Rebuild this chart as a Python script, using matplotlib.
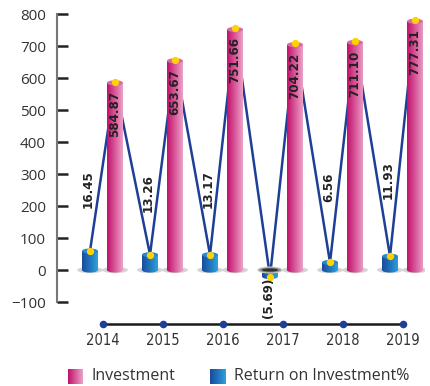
import numpy as np
import matplotlib
matplotlib.use("Agg")
import matplotlib.pyplot as plt
from matplotlib.patches import Ellipse, PathPatch
from matplotlib.path import Path
from matplotlib.colors import LinearSegmentedColormap
from matplotlib import font_manager

years = ["2014", "2015", "2016", "2017", "2018", "2019"]
investment = [584.87, 653.67, 751.66, 704.22, 711.10, 777.31]
roi_pct = [16.45, 13.26, 13.17, -5.69, 6.56, 11.93]
roi_labels = ["16.45", "13.26", "13.17", "(5.69)", "6.56", "11.93"]
yticks = [-100, 0, 100, 200, 300, 400, 500, 600, 700, 800]

# vertical stretch used to show the ROI % cylinders on the investment axis
ROI_SCALE = 3.6
# centre height of each rotated ROI label
roi_label_y = [254, 241, 254, -88, 257, 280]

# condensed face for the value labels and years
sys_fonts = font_manager.findSystemFonts()
cond_files = [f for f in sys_fonts if f.endswith("DejaVuSansCondensed-Bold.ttf")]
cond_reg_files = [f for f in sys_fonts if f.endswith("DejaVuSansCondensed.ttf")]
val_font = font_manager.FontProperties(fname=cond_files[0], size=9.5) if cond_files else \
    font_manager.FontProperties(family="DejaVu Sans", weight="bold", size=8.5)
year_font = font_manager.FontProperties(fname=cond_reg_files[0], size=10.5) if cond_reg_files else \
    font_manager.FontProperties(family="DejaVu Sans", size=10)

W, H = 431, 386
fig = plt.figure(figsize=(W / 100, H / 100), dpi=100)

ax_left, ax_right, ax_top, ax_bot = 57, 425, 14, 302
ax = fig.add_axes([ax_left / W, 1 - ax_bot / H, (ax_right - ax_left) / W, (ax_bot - ax_top) / H])
px_per_x = 60.0
xmin = -(103 - ax_left) / px_per_x
xmax = xmin + (ax_right - ax_left) / px_per_x
ymin, ymax = -100, 800

pink_cmap = LinearSegmentedColormap.from_list("pink", ["#c2106c", "#d8589a", "#eaa2c8"])
blue_cmap = LinearSegmentedColormap.from_list("blue", ["#1a4c9a", "#1f74bf", "#2fa3da"])
grad = np.linspace(0, 1, 64).reshape(1, -1)

bar_w = 16 / px_per_x
cap_h = 16.0  # height of the cylinder's elliptical cap, in data units


def shadow(xc, dark=False):
    if dark:
        for k, (ww, hh, c) in enumerate([(26, 22, "#d0d0d0"), (22, 16, "#8a8a8a"), (16, 10, "#303030")]):
            ax.add_patch(Ellipse((xc, 0), ww / px_per_x, hh, facecolor=c, edgecolor="none", zorder=5.5 + k * 0.01))
    else:
        ax.add_patch(Ellipse((xc, 0), 26 / px_per_x, 20, facecolor="#d6d6d6", edgecolor="none", zorder=1.5))
        ax.add_patch(Ellipse((xc, 0), 18 / px_per_x, 12, facecolor="#c4c4c4", edgecolor="none", zorder=1.51))


def cylinder(xc, top, bottom, cmap, cap_color, z, cap=True):
    x0, x1 = xc - bar_w / 2, xc + bar_w / 2
    t = np.linspace(np.pi, 2 * np.pi, 30)
    arc = [(xc + bar_w / 2 * np.cos(a), bottom + cap_h / 2 * np.sin(a)) for a in t]
    verts = [(x0, top)] + arc + [(x1, top), (x0, top)]
    codes = [Path.MOVETO] + [Path.LINETO] * (len(verts) - 2) + [Path.CLOSEPOLY]
    clip = PathPatch(Path(verts, codes), facecolor="none", edgecolor="none", transform=ax.transData)
    ax.add_patch(clip)
    im = ax.imshow(grad, cmap=cmap, extent=[x0, x1, bottom - cap_h, top], aspect="auto",
                   interpolation="bilinear", zorder=z)
    im.set_clip_path(clip)
    if cap:
        ax.add_patch(Ellipse((xc, top), bar_w, cap_h, facecolor=cap_color, edgecolor="none", zorder=z + 0.05))


xs = np.arange(len(years))
inv_x = xs + 12 / px_per_x
roi_x = xs - 13 / px_per_x
roi_y = [v * ROI_SCALE for v in roi_pct]

# zigzag line joining ROI tops and investment tops
line_x, line_y = [], []
for rx, ry, ix, iv in zip(roi_x, roi_y, inv_x, investment):
    line_x += [rx, ix]
    line_y += [ry, iv]
ax.plot(line_x, line_y, color="#1d3f96", lw=1.8, zorder=2, solid_joinstyle="miter")

for i in range(len(years)):
    shadow(inv_x[i])
    cylinder(inv_x[i], investment[i], 0, pink_cmap, "#d86aa6", 3)
    ax.scatter([inv_x[i]], [investment[i] + 4], s=28, color="#ffd200", zorder=6, linewidths=0)
    ax.text(inv_x[i], investment[i] - 25, f"{investment[i]:.2f}", rotation=90, ha="center", va="top",
            fontproperties=val_font, color="#222222", zorder=7)

    if roi_y[i] >= 0:
        shadow(roi_x[i])
        cylinder(roi_x[i], roi_y[i], 0, blue_cmap, "#2a86cc", 3)
    else:
        cylinder(roi_x[i], 0, roi_y[i], blue_cmap, "#2a86cc", 3, cap=False)
        shadow(roi_x[i], dark=True)
    ax.scatter([roi_x[i]], [roi_y[i]], s=28, color="#ffd200", zorder=6.5, linewidths=0)
    ax.text(roi_x[i] - 1.5 / px_per_x, roi_label_y[i], roi_labels[i], rotation=90, ha="center", va="center",
            fontproperties=val_font, color="#222222", zorder=7)

# timeline with year markers under the plot
tl_y = ymin - (324 - ax_bot) * (ymax - ymin) / (ax_bot - ax_top)
lab_y = ymin - (333 - ax_bot) * (ymax - ymin) / (ax_bot - ax_top)
ax.plot(xs, [tl_y] * len(xs), color="#1a1a1a", lw=1.8, clip_on=False, zorder=4)
ax.scatter(xs, [tl_y] * len(xs), s=30, color="#1d3f96", clip_on=False, zorder=5, linewidths=0)
for x, yr in zip(xs, years):
    ax.text(x, lab_y, yr, ha="center", va="top", fontproperties=year_font, color="#333333", clip_on=False)

ax.set_xlim(xmin, xmax)
ax.set_ylim(ymin, ymax)
ax.set_yticks(yticks)
ax.set_xticks([])
for s in ["top", "right", "bottom"]:
    ax.spines[s].set_visible(False)
ax.spines["left"].set_color("#777777")
ax.spines["left"].set_linewidth(1.5)
ax.tick_params(axis="y", direction="in", length=8, width=1.8, color="#222222",
               labelsize=11, labelcolor="#333333", pad=8)
for lbl in ax.get_yticklabels():
    lbl.set_family(["Open Sans", "DejaVu Sans"])
ax.patch.set_alpha(0)

# legend swatches with gradients
for (x0, cmap, text) in [(68, pink_cmap, "Investment"), (210, blue_cmap, "Return on Investment%")]:
    sw = fig.add_axes([x0 / W, 1 - 384 / H, 15 / W, 15 / H])
    sw.imshow(grad, cmap=cmap, aspect="auto", extent=[0, 1, 0, 1])
    sw.axis("off")
    fig.text((x0 + 24) / W, 1 - 376 / H, text, ha="left", va="center", fontsize=11.5,
             color="#333333", family=["Open Sans", "DejaVu Sans"])

fig.savefig("out.png", dpi=100)
